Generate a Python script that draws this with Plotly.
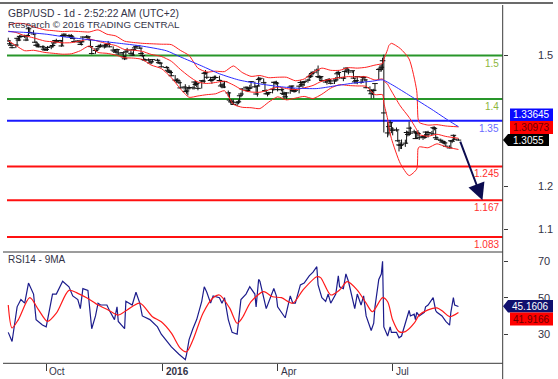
import pandas as pd
import plotly.graph_objects as go

# ---------------- data ----------------
CLOSE = [
 1.5335,1.5270,1.5235,1.5180,1.5240,1.5395,1.5355,1.5440,1.5435,1.5445,1.5355,1.5460,1.5615,1.5530,1.5495,1.5305,1.5235,1.5240,1.5200,1.5200,1.5145,1.5125,
 1.5140,1.5185,1.5200,1.5230,1.5290,1.5345,1.5320,1.5345,1.5220,1.5460,1.5490,1.5450,1.5460,1.5450,1.5430,1.5390,1.5320,1.5335,1.5315,1.5255,1.5315,1.5425,
 1.5420,1.5430,1.5365,1.5205,1.5045,1.5115,1.5150,1.5205,1.5210,1.5235,1.5200,1.5235,1.5255,1.5260,1.5200,1.5125,1.5100,1.5075,1.5135,1.5035,1.5065,
 1.4970,1.4925,1.5085,1.5125,1.5050,1.5010,1.5135,1.5175,1.5210,1.5170,1.5045,1.5000,1.4905,1.4895,1.4900,1.4830,1.4855,1.4905,1.4890,1.4835,1.4825,1.4740,
 1.4725,1.4660,1.4635,1.4610,1.4535,1.4435,1.4420,1.4420,1.4375,1.4255,1.4275,1.4170,1.4185,1.4235,1.4265,1.4255,1.4390,1.4335,1.4360,1.4245,
 1.4420,1.4410,1.4590,1.4605,1.4500,1.4425,1.4445,1.4495,1.4495,1.4495,1.4425,1.4300,1.4325,1.4275,1.4400,1.4140,1.3975,1.3935,1.3930,1.3875,1.3915,
 1.3935,1.4075,1.4115,1.4230,1.4270,1.4195,1.4245,1.4255,1.4400,1.4280,1.4115,1.4300,1.4450,1.4475,1.4375,1.4195,1.4120,1.4120,1.4150,1.4225,1.4385,1.4380,1.4365,
 1.4215,1.4215,1.4130,1.4110,1.4050,1.4140,1.4275,1.4300,1.4195,1.4175,1.4200,1.4295,1.4380,1.4330,1.4380,1.4400,1.4435,1.4510,1.4525,1.4585,1.4615,
 1.4665,1.4515,1.4500,1.4515,1.4425,1.4390,1.4430,1.4445,1.4415,1.4360,1.4415,1.4440,1.4580,1.4610,1.4490,1.4480,1.4635,1.4710,1.4665,1.4620,1.4650,1.4480,
 1.4395,1.4425,1.4515,1.4385,1.4505,1.4495,1.4440,1.4260,1.4190,1.4120,1.4200,1.4200,1.4355,1.4680,1.4690,1.4730,1.4880,1.3680,1.3220,1.3365,1.3455,1.3310,
 1.3280,1.3290,1.3040,1.2945,1.2935,1.2950,1.2985,1.3230,1.3185,1.3330,1.3215,1.3245,1.3090,1.3220,1.3205,1.3110,1.3135,1.3120,1.3240,1.3180,1.3230,
 1.3200,1.3340,1.3325,1.3110,1.3075,1.3050,1.3010,1.3015,1.2990,1.2915,1.2875,1.3040,1.3030,1.3165,1.3075,1.3055,
]
HIGH = [
 1.5410,1.5350,1.5300,1.5245,1.5260,1.5410,1.5440,1.5470,1.5485,1.5480,1.5460,1.5485,1.5660,1.5620,1.5580,1.5500,1.5330,1.5300,1.5280,1.5230,1.5230,1.5180,
 1.5170,1.5220,1.5230,1.5280,1.5310,1.5360,1.5385,1.5360,1.5350,1.5480,1.5510,1.5500,1.5490,1.5480,1.5490,1.5470,1.5410,1.5350,1.5345,1.5340,1.5330,1.5440,
 1.5470,1.5460,1.5440,1.5380,1.5220,1.5130,1.5170,1.5225,1.5245,1.5270,1.5245,1.5265,1.5270,1.5335,1.5285,1.5210,1.5140,1.5150,1.5160,1.5140,1.5080,
 1.5075,1.5000,1.5110,1.5175,1.5140,1.5070,1.5150,1.5215,1.5235,1.5240,1.5180,1.5080,1.5010,1.4935,1.4935,1.4905,1.4880,1.4920,1.4925,1.4905,1.4860,1.4830,
 1.4760,1.4745,1.4705,1.4665,1.4655,1.4550,1.4470,1.4480,1.4455,1.4405,1.4290,1.4340,1.4220,1.4250,1.4315,1.4290,1.4405,1.4420,1.4410,1.4375,
 1.4435,1.4445,1.4615,1.4665,1.4625,1.4510,1.4470,1.4520,1.4540,1.4540,1.4535,1.4445,1.4355,1.4375,1.4410,1.4195,1.4160,1.3990,1.3975,1.3990,1.3950,
 1.3990,1.4095,1.4150,1.4250,1.4290,1.4285,1.4265,1.4325,1.4410,1.4400,1.4295,1.4320,1.4515,1.4500,1.4475,1.4395,1.4220,1.4145,1.4165,1.4260,1.4400,1.4415,1.4420,
 1.4390,1.4245,1.4245,1.4170,1.4160,1.4155,1.4290,1.4305,1.4310,1.4250,1.4230,1.4310,1.4430,1.4395,1.4390,1.4420,1.4465,1.4575,1.4555,1.4625,1.4640,
 1.4700,1.4770,1.4545,1.4535,1.4520,1.4435,1.4445,1.4475,1.4475,1.4455,1.4435,1.4505,1.4635,1.4660,1.4625,1.4510,1.4650,1.4725,1.4730,1.4690,1.4655,1.4650,
 1.4485,1.4440,1.4525,1.4460,1.4525,1.4530,1.4510,1.4450,1.4290,1.4230,1.4220,1.4235,1.4355,1.4700,1.4780,1.4800,1.4950,1.5020,1.3465,1.3410,1.3510,1.3470,
 1.3355,1.3345,1.3295,1.3065,1.3005,1.3070,1.3065,1.3275,1.3265,1.3480,1.3365,1.3295,1.3260,1.3240,1.3285,1.3230,1.3165,1.3175,1.3255,1.3255,1.3270,
 1.3265,1.3370,1.3370,1.3340,1.3140,1.3090,1.3065,1.3035,1.3040,1.3010,1.2935,1.3055,1.3060,1.3185,1.3175,1.3090,
]
LOW = [
 1.5320,1.5245,1.5210,1.5165,1.5170,1.5225,1.5330,1.5330,1.5400,1.5400,1.5330,1.5340,1.5440,1.5500,1.5470,1.5290,1.5200,1.5190,1.5185,1.5160,1.5130,1.5105,
 1.5110,1.5105,1.5145,1.5185,1.5215,1.5275,1.5300,1.5290,1.5200,1.5220,1.5430,1.5430,1.5430,1.5420,1.5410,1.5380,1.5300,1.5300,1.5280,1.5240,1.5230,1.5300,
 1.5395,1.5380,1.5340,1.5180,1.5025,1.5040,1.5085,1.5135,1.5170,1.5180,1.5160,1.5180,1.5210,1.5240,1.5190,1.5110,1.5085,1.5060,1.5070,1.5020,1.5010,
 1.4950,1.4895,1.4910,1.5060,1.5030,1.4990,1.4995,1.5115,1.5155,1.5150,1.5020,1.4960,1.4890,1.4865,1.4870,1.4820,1.4800,1.4840,1.4860,1.4815,1.4790,1.4725,
 1.4700,1.4650,1.4625,1.4560,1.4520,1.4425,1.4385,1.4390,1.4345,1.4240,1.4220,1.4160,1.4120,1.4080,1.4225,1.4220,1.4220,1.4300,1.4270,1.4200,
 1.4240,1.4385,1.4365,1.4560,1.4460,1.4400,1.4350,1.4410,1.4435,1.4450,1.4410,1.4275,1.4245,1.4250,1.4250,1.4055,1.3950,1.3880,1.3880,1.3865,1.3835,
 1.3880,1.3925,1.4040,1.4070,1.4175,1.4160,1.4160,1.4180,1.4235,1.4260,1.4095,1.4055,1.4290,1.4400,1.4350,1.4160,1.4105,1.4060,1.4090,1.4130,1.4190,1.4330,1.4325,
 1.4175,1.4175,1.4095,1.4005,1.4030,1.4005,1.4120,1.4200,1.4180,1.4145,1.4155,1.4130,1.4285,1.4290,1.4260,1.4300,1.4375,1.4415,1.4480,1.4500,1.4550,
 1.4590,1.4495,1.4440,1.4445,1.4395,1.4370,1.4330,1.4400,1.4375,1.4335,1.4345,1.4395,1.4420,1.4550,1.4470,1.4410,1.4460,1.4615,1.4640,1.4565,1.4595,1.4460,
 1.4355,1.4350,1.4340,1.4350,1.4375,1.4465,1.4410,1.4245,1.4115,1.4010,1.4090,1.4015,1.4180,1.4460,1.4625,1.4630,1.4665,1.3230,1.3120,1.3160,1.3370,1.3215,
 1.3165,1.3250,1.3015,1.2795,1.2850,1.2850,1.2900,1.2970,1.3140,1.3150,1.3185,1.3210,1.3080,1.3080,1.3140,1.3060,1.3060,1.3085,1.3095,1.3140,1.3115,
 1.3165,1.3185,1.3280,1.3085,1.3055,1.3020,1.2995,1.2960,1.2955,1.2905,1.2865,1.2870,1.2985,1.3025,1.3060,1.3045,
]
HOLIDAYS = ["2015-12-25", "2016-01-01"]

BB_DATES = ["2015-09-01","2015-09-07","2015-09-14","2015-09-21","2015-09-30","2015-10-07","2015-10-14","2015-10-21",
            "2015-10-28","2015-11-04","2015-11-11","2015-11-18","2015-11-25","2015-12-02","2015-12-09","2015-12-16",
            "2015-12-23","2015-12-31","2016-01-08","2016-01-15","2016-01-22","2016-01-29","2016-02-05","2016-02-12",
            "2016-02-19","2016-02-26","2016-03-04","2016-03-11","2016-03-18","2016-03-25","2016-04-01","2016-04-08",
            "2016-04-15","2016-04-22","2016-04-29","2016-05-06","2016-05-13","2016-05-20","2016-05-27","2016-06-03",
            "2016-06-10","2016-06-17","2016-06-23","2016-06-24","2016-06-27","2016-06-28","2016-06-30","2016-07-07",
            "2016-07-14","2016-07-20","2016-07-21","2016-07-22","2016-07-29","2016-08-05","2016-08-12","2016-08-22"]
BB_MID = [1.5560,1.5530,1.5456,1.5406,1.5332,1.5314,1.5291,1.5296,1.5332,1.5377,1.5329,1.5271,1.5229,1.5137,1.5122,1.5095,
          1.5026,1.4979,1.4867,1.4683,1.4520,1.4389,1.4357,1.4380,1.4410,1.4323,1.4210,1.4161,1.4156,1.4211,1.4276,1.4240,
          1.4216,1.4257,1.4312,1.4411,1.4456,1.4493,1.4515,1.4508,1.4510,1.4436,1.4461,1.4414,1.4342,1.4287,1.4184,1.3841,
          1.3577,1.3293,1.3209,1.3180,1.3144,1.3189,1.3140,1.30973]
BB_UP = [1.5700,1.5740,1.5730,1.5660,1.5590,1.5570,1.5550,1.5560,1.5550,1.5540,1.5590,1.5490,1.5450,1.5330,1.5300,1.5280,
         1.5270,1.5260,1.5250,1.5120,1.5000,1.4710,1.4620,1.4640,1.4630,1.4760,1.4610,1.4520,1.4540,1.4490,1.4500,1.4500,
         1.4420,1.4460,1.4610,1.4710,1.4660,1.4660,1.4720,1.4710,1.4730,1.4780,1.4820,1.4910,1.5140,1.5230,1.5280,1.5160,
         1.4920,1.4190,1.3570,1.3460,1.3400,1.3410,1.3380,1.3360]
BB_LO = [1.5340,1.5230,1.5110,1.5120,1.5070,1.5050,1.5030,1.5040,1.5110,1.5220,1.5070,1.5050,1.5010,1.4950,1.4940,1.4910,
         1.4780,1.4700,1.4490,1.4240,1.4040,1.4070,1.4100,1.4120,1.4190,1.3880,1.3810,1.3800,1.3780,1.3930,1.4050,1.3980,
         1.4020,1.4060,1.4010,1.4110,1.4250,1.4330,1.4310,1.4300,1.4290,1.4100,1.4100,1.3910,1.3540,1.3350,1.3090,1.2520,
         1.2240,1.2390,1.2850,1.2900,1.2880,1.2970,1.2900,1.2840]

SMA_DATES = ["2015-09-01","2015-09-15","2015-10-01","2015-10-15","2015-11-02","2015-11-16","2015-12-01","2015-12-15",
             "2016-01-04","2016-01-15","2016-02-01","2016-02-15","2016-03-01","2016-03-15","2016-04-01","2016-04-15",
             "2016-05-02","2016-05-16","2016-06-01","2016-06-15","2016-06-23","2016-07-01","2016-07-15","2016-08-01",
             "2016-08-15","2016-08-22"]
SMA50 = [1.5550,1.5530,1.5490,1.5430,1.5370,1.5320,1.5270,1.5220,1.5110,1.4970,1.4760,1.4580,1.4440,1.4360,1.4290,1.4250,
         1.4240,1.4300,1.4370,1.4410,1.4440,1.4320,1.4070,1.3760,1.3490,1.33645]

LEVELS = [1.5, 1.4, 1.35, 1.245, 1.167, 1.083]
LEVEL_TEXT = ["1.5", "1.4", "1.35", "1.245", "1.167", "1.083"]
TARGET = 1.167
ARROW_FROM_DATE = "2016-08-23"
ARROW_TO_DATE = "2016-09-10"

RSI_DATES = ["2015-09-01","2015-09-04","2015-09-08","2015-09-11","2015-09-14","2015-09-17","2015-09-21","2015-09-23",
             "2015-09-28","2015-10-01","2015-10-06","2015-10-09","2015-10-14","2015-10-19","2015-10-22","2015-10-26",
             "2015-10-28","2015-10-30","2015-11-03","2015-11-06","2015-11-09","2015-11-11","2015-11-13","2015-11-18",
             "2015-11-20","2015-11-24","2015-11-26","2015-11-27","2015-12-02","2015-12-03","2015-12-08","2015-12-11",
             "2015-12-14","2015-12-16","2015-12-22","2015-12-28","2015-12-31","2016-01-06","2016-01-08","2016-01-14",
             "2016-01-19","2016-01-20","2016-01-22","2016-01-25","2016-01-28","2016-02-01","2016-02-03","2016-02-05",
             "2016-02-08","2016-02-10","2016-02-15","2016-02-17","2016-02-19","2016-02-22","2016-02-25","2016-02-29",
             "2016-03-01","2016-03-03","2016-03-07","2016-03-10","2016-03-11","2016-03-14","2016-03-15","2016-03-17",
             "2016-03-18","2016-03-21","2016-03-23","2016-03-29","2016-03-31","2016-04-01","2016-04-05","2016-04-07",
             "2016-04-11","2016-04-13","2016-04-15","2016-04-19","2016-04-22","2016-04-26","2016-04-29","2016-05-02",
             "2016-05-03","2016-05-06","2016-05-09","2016-05-11","2016-05-13","2016-05-17","2016-05-19","2016-05-20",
             "2016-05-23","2016-05-25","2016-05-27","2016-05-31","2016-06-01","2016-06-03","2016-06-06","2016-06-08",
             "2016-06-10","2016-06-14","2016-06-16","2016-06-17","2016-06-20","2016-06-22","2016-06-23","2016-06-24",
             "2016-06-27","2016-06-29","2016-06-30","2016-07-04","2016-07-06","2016-07-08","2016-07-12","2016-07-14",
             "2016-07-15","2016-07-18","2016-07-19","2016-07-20","2016-07-22","2016-07-26","2016-07-27","2016-07-29",
             "2016-08-02","2016-08-04","2016-08-05","2016-08-09","2016-08-12","2016-08-15","2016-08-16","2016-08-18",
             "2016-08-19","2016-08-22"]
RSI = [31,26,45,49,47,58,52,38,35,34,52,52,59,56,51,49,44,55,54,33,40,47,46,46,43,38,45,37,33,48,46,53,
       47,40,38,34,30,25,23,19,16,19,27,33,38,48,56,53,47,51,50,47,50,38,31,30,36,49,52,56,55,52,45,60,
       59,50,44,55,51,45,41,39,51,47,47,57,58,62,64,67,57,50,48,52,47,52,62,56,55,63,59,48,44,52,46,51,
       40,32,36,45,60,63,70,34,29,34,31,31,28,29,38,43,40,41,38,42,40,42,45,46,50,43,42,40,37,35,42,50,
       46,45.1606]

RSIMA_DATES = ["2015-09-01","2015-09-04","2015-09-09","2015-09-18","2015-09-25","2015-10-02","2015-10-09","2015-10-19",
               "2015-10-26","2015-11-02","2015-11-11","2015-11-19","2015-11-27","2015-12-04","2015-12-14","2015-12-24",
               "2015-12-31","2016-01-08","2016-01-15","2016-01-20","2016-01-25","2016-02-02","2016-02-10","2016-02-15",
               "2016-02-23","2016-02-29","2016-03-04","2016-03-11","2016-03-21","2016-03-28","2016-04-04","2016-04-13",
               "2016-04-21","2016-05-02","2016-05-05","2016-05-13","2016-05-20","2016-05-26","2016-06-03","2016-06-10",
               "2016-06-15","2016-06-23","2016-06-27","2016-07-01","2016-07-06","2016-07-11","2016-07-18","2016-07-22",
               "2016-07-29","2016-08-05","2016-08-10","2016-08-15","2016-08-22"]
RSI_MA = [46,33.4,38,50,43.3,37,41.5,54,52.4,50,46,43.3,40.5,43.3,47,39.6,36.8,30.6,22.4,20.4,26.8,41.5,50,51.5,
          44.4,36,38.9,47.8,53.3,50.5,50,47,54.2,61.5,61,51.5,54.2,58.8,54.2,47,42.3,50,47.8,37.8,31.4,31.4,36,40.5,
          43.3,44.4,42.3,39.6,41.9166]

TICK_DATES = ["2015-10-01", "2016-01-01", "2016-04-01", "2016-07-01"]
TICK_TEXT = ["Oct", "<b>2016</b>", "Apr", "Jul"]

# ---------------- layout helpers ----------------
W, H = 558, 379
def px(x): return x / W
def py(y): return 1 - y / H

dates = pd.bdate_range("2015-09-01", "2016-08-22")
dates = dates[~dates.isin(pd.to_datetime(HOLIDAYS))]
assert len(dates) == len(CLOSE) == len(HIGH) == len(LOW), (len(dates), len(CLOSE), len(HIGH), len(LOW))

XRANGE = ["2015-08-31", "2016-09-26"]
XDOM = [px(7), px(502.7)]
FONT = "Liberation Sans, Arial, sans-serif"
TXT = "#333347"

fig = go.Figure()

# price bars (high-low) + close ticks
bx, by = [], []
for d, h, l in zip(dates, HIGH, LOW):
    bx += [d, d, None]
    by += [l, h, None]
fig.add_trace(go.Scatter(x=bx, y=by, mode="lines", line=dict(color="#111111", width=1),
                         hoverinfo="skip", xaxis="x", yaxis="y"))
fig.add_trace(go.Scatter(x=dates, y=CLOSE, mode="markers",
                         marker=dict(symbol="line-ew", size=4, line=dict(color="#111111", width=1)),
                         xaxis="x", yaxis="y"))

# bollinger + sma
for ser in (BB_UP, BB_MID, BB_LO):
    fig.add_trace(go.Scatter(x=BB_DATES, y=ser, mode="lines",
                             line=dict(color="#ff2020", width=1, shape="spline", smoothing=0.6),
                             xaxis="x", yaxis="y"))
fig.add_trace(go.Scatter(x=SMA_DATES, y=SMA50, mode="lines",
                         line=dict(color="#2a2aff", width=1, shape="spline", smoothing=0.6),
                         xaxis="x", yaxis="y"))

# RSI
fig.add_trace(go.Scatter(x=RSI_DATES, y=RSI, mode="lines", line=dict(color="#1c1c8c", width=1.2),
                         xaxis="x2", yaxis="y2"))
fig.add_trace(go.Scatter(x=RSIMA_DATES, y=RSI_MA, mode="lines",
                         line=dict(color="#ff1a1a", width=1.2, shape="spline", smoothing=0.8),
                         xaxis="x2", yaxis="y2"))

LEVEL_LINE = ["#28962a", "#28962a", "#1a1aff", "#ff1010", "#ff1010", "#ff1010"]
LEVEL_LBL = ["#8db53c", "#8db53c", "#6a6aff", "#ff3030", "#ff3030", "#ff3030"]
shapes = []
annotations = []
for lv, txt, lc, tc in zip(LEVELS, LEVEL_TEXT, LEVEL_LINE, LEVEL_LBL):
    shapes.append(dict(type="line", xref="x domain", yref="y", x0=0, x1=1, y0=lv, y1=lv,
                       line=dict(color=lc, width=2), layer="below"))
    annotations.append(dict(xref="x domain", yref="y", x=1, y=lv, text=txt, showarrow=False,
                            xanchor="right", yanchor="top", xshift=-2, yshift=0,
                            font=dict(family=FONT, size=10, color=tc)))

# frame lines
LINE = dict(color="#3a3a3a", width=1)
shapes += [
    dict(type="line", xref="paper", yref="paper", x0=0, x1=px(553), y0=py(3), y1=py(3), line=dict(color="#3a3a3a", width=1.5)),
    dict(type="line", xref="paper", yref="paper", x0=px(502.7), x1=px(502.7), y0=py(5), y1=0, line=LINE),
    dict(type="line", xref="paper", yref="paper", x0=px(3), x1=px(502.7), y0=py(252), y1=py(252), line=LINE),
    dict(type="line", xref="paper", yref="paper", x0=px(3), x1=px(502.7), y0=py(363.3), y1=py(363.3), line=LINE),
]

# value tags
def box(x0, x1, y0, y1, color):
    shapes.append(dict(type="rect", xref="paper", yref="paper", x0=px(x0), x1=px(x1), y0=py(y1), y1=py(y0),
                       fillcolor=color, line=dict(width=0), layer="above"))
def arrow_tag(tip_x, x0, x1, y0, y1, color):
    ym = (y0 + y1) / 2
    path = (f"M {px(tip_x)},{py(ym)} L {px(x0)},{py(y0)} L {px(x1)},{py(y0)} "
            f"L {px(x1)},{py(y1)} L {px(x0)},{py(y1)} Z")
    shapes.append(dict(type="path", xref="paper", yref="paper", path=path,
                       fillcolor=color, line=dict(width=0), layer="above"))
def tag_text(x0, x1, y0, y1, txt, color):
    annotations.append(dict(xref="paper", yref="paper", x=px((x0 + x1) / 2), y=py((y0 + y1) / 2),
                            text=txt, showarrow=False, xanchor="center", yanchor="middle",
                            font=dict(family=FONT, size=10, color=color)))

box(510, 553, 108.5, 121, "#0a0aff"); tag_text(510, 553, 108.5, 121, f"{SMA50[-1]:.5f}", "white")
box(510, 553, 121, 134, "#ff0000"); tag_text(510, 553, 121, 134, f"{BB_MID[-1]:.5f}", "#6a0000")
arrow_tag(503, 508, 549, 134, 146, "#000000"); tag_text(508, 549, 134, 146, f"{CLOSE[-1]:.4f}", "white")
arrow_tag(503, 508, 553, 300, 312.5, "#10106e"); tag_text(508, 553, 300, 312.5, f"{RSI[-1]:.4f}", "white")
box(510, 553, 312.5, 325.5, "#ff0000"); tag_text(510, 553, 312.5, 325.5, f"{RSI_MA[-1]:.4f}", "#6a0000")

# titles
annotations += [
    dict(xref="paper", yref="paper", x=px(6), y=py(13), text="GBP/USD - 1d - 2:52:22 AM (UTC+2)",
         showarrow=False, xanchor="left", yanchor="middle", font=dict(family=FONT, size=10.3, color=TXT)),
    dict(xref="paper", yref="paper", x=px(6), y=py(24.5), text="Research © 2016 TRADING CENTRAL",
         showarrow=False, xanchor="left", yanchor="middle", font=dict(family=FONT, size=9.8, color=TXT)),
    dict(xref="paper", yref="paper", x=px(6), y=py(259.5), text="RSI14 - 9MA",
         showarrow=False, xanchor="left", yanchor="middle", font=dict(family=FONT, size=10, color=TXT)),
]
for d, t in zip(TICK_DATES, TICK_TEXT):
    annotations.append(dict(xref="x2", yref="paper", x=d, y=py(371), text=t, showarrow=False,
                            xanchor="left", yanchor="middle", xshift=1,
                            font=dict(family=FONT, size=10, color=TXT)))

# projection arrow
annotations.append(dict(xref="x", yref="y", axref="x", ayref="y", x=ARROW_TO_DATE, y=TARGET,
                        ax=ARROW_FROM_DATE, ay=CLOSE[-1], text="", showarrow=True,
                        arrowhead=2, arrowsize=1.7, arrowwidth=2, arrowcolor="#0c0c50"))

axis_common = dict(showgrid=False, zeroline=False, showline=False)
fig.update_layout(
    width=W, height=H, margin=dict(l=0, r=0, t=0, b=0),
    paper_bgcolor="white", plot_bgcolor="white", showlegend=False,
    font=dict(family=FONT, color=TXT),
    xaxis=dict(domain=XDOM, range=XRANGE, type="date", anchor="y", showticklabels=False, ticks="", **axis_common),
    yaxis=dict(domain=[py(248), py(3)], range=[1.0575, 1.6207], side="right", anchor="x",
               tickvals=[1.1, 1.2, 1.5], ticktext=["1.1", "1.2", "1.5"], ticks="outside", ticklen=4,
               tickcolor="#3a3a3a", ticklabelstandoff=28, tickfont=dict(family=FONT, size=11, color=TXT),
               **axis_common),
    xaxis2=dict(domain=XDOM, range=XRANGE, type="date", anchor="y2", tickvals=TICK_DATES,
                showticklabels=False, ticks="outside", ticklen=7, tickcolor="#3a3a3a", **axis_common),
    yaxis2=dict(domain=[py(363.3), py(252)], range=[14.05, 75.04], side="right", anchor="x2",
                tickvals=[30, 50, 70], ticks="outside", ticklen=4, tickcolor="#3a3a3a",
                ticklabelstandoff=28, tickfont=dict(family=FONT, size=11, color=TXT), **axis_common),
    shapes=shapes, annotations=annotations,
)

fig.write_html("out.html", config={"displayModeBar": False},
               post_script="document.body.style.margin='0';document.body.style.overflow='hidden';")
